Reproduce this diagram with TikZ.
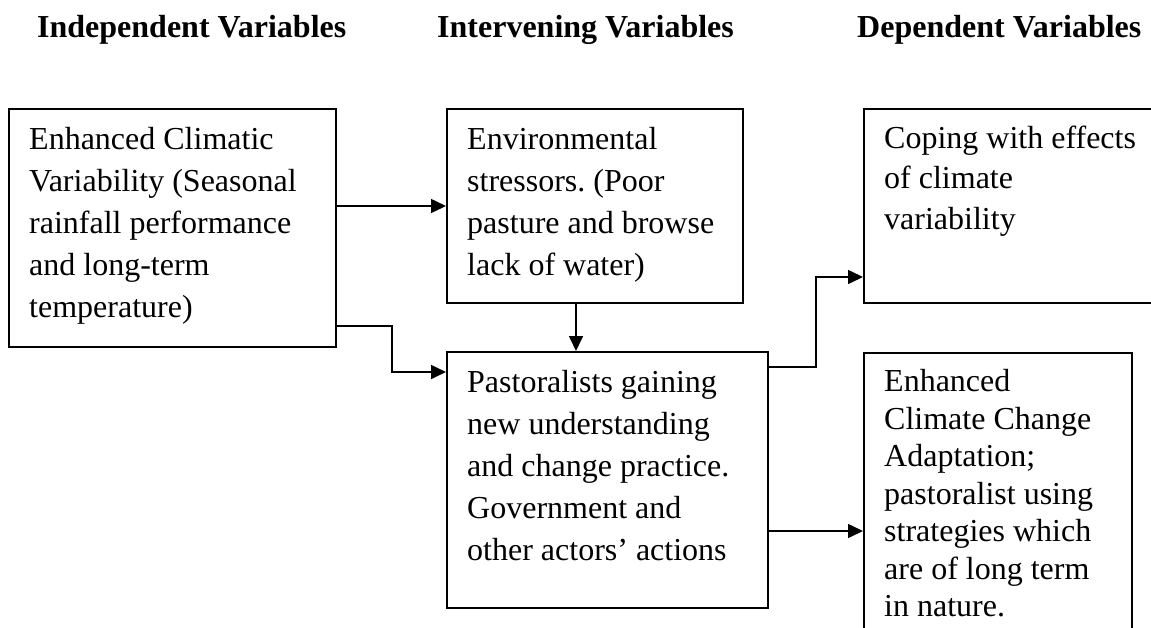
\documentclass[tikz,border=0pt]{standalone}
\usepackage{fontspec}
\setmainfont{Liberation Serif}
\usetikzlibrary{arrows.meta}
\frenchspacing
\begin{document}
\begin{tikzpicture}[x=1pt,y=-1pt,
  box/.style={draw,line width=1.6pt,inner sep=0pt,anchor=north west},
  txt/.style={inner sep=0pt,anchor=base west,font=\fontsize{32}{42}\selectfont},
  head/.style={inner sep=0pt,anchor=base west,font=\fontsize{32}{42}\selectfont\bfseries},
  arr/.style={line width=1.6pt,-{Triangle[length=15pt,width=14pt]}},
  ln/.style={line width=1.6pt}]
\useasboundingbox (0,0) rectangle (1151,627);
% headers
\node[head] (h1) at (37,37) {Independent Variables};
\node[head] (h2) at (437,37) {Intervening Variables};
\node[head] (h3) at (857,37) {Dependent Variables};
% boxes
\node[box,minimum width=327pt,minimum height=238pt] (A) at (8,108) {};
\node[box,minimum width=296pt,minimum height=194pt] (B) at (446,108) {};
\node[box,minimum width=321pt,minimum height=256pt] (C) at (446,351) {};
\node[box,minimum width=300pt,minimum height=194pt] (D) at (863,108) {};
\node[box,minimum width=268pt,minimum height=300pt] (E) at (863,352) {};
% texts
\node[txt] (tA) at ([xshift=21pt,yshift=-41pt]A.north west) {\parbox[t]{320pt}{\raggedright\frenchspacing Enhanced Climatic\\Variability (Seasonal\\rainfall performance\\and long-term\\temperature)}};
\node[txt] (tB) at ([xshift=21pt,yshift=-41pt]B.north west) {\parbox[t]{300pt}{\raggedright\frenchspacing Environmental\\stressors. (Poor\\pasture and browse\\lack of water)}};
\node[txt] (tC) at ([xshift=21pt,yshift=-41pt]C.north west) {\parbox[t]{320pt}{\raggedright\frenchspacing Pastoralists gaining\\new understanding\\and change practice.\\Government and\\other actors’ actions}};
\node[txt,font=\fontsize{32}{40.3}\selectfont] (tD) at ([xshift=21pt,yshift=-40.5pt]D.north west) {\parbox[t]{300pt}{\raggedright Coping with effects\\of climate\\variability}};
\node[txt,font=\fontsize{32}{37.5}\selectfont] (tE) at ([xshift=21pt,yshift=-39.5pt]E.north west) {\parbox[t]{300pt}{\raggedright\frenchspacing Enhanced\\Climate Change\\Adaptation;\\pastoralist using\\strategies which\\are of long term\\in nature.}};
% connectors
\draw[arr] ([yshift=-98pt]A.north east) -- ([yshift=-98pt]B.north west);
\draw[arr] ([yshift=-218pt]A.north east) -| ([xshift=-54pt,yshift=-21pt]C.north west) -- ([yshift=-21pt]C.north west);
\draw[arr] ([xshift=130pt]B.south west) -- ([xshift=130pt]C.north west);
\draw[arr] ([yshift=-16pt]C.north east) -| ([xshift=-47pt,yshift=-169pt]D.north west) -- ([yshift=-169pt]D.north west);
\draw[arr] ([yshift=-180pt]C.north east) -- ([yshift=-179pt]E.north west);
\end{tikzpicture}
\end{document}
